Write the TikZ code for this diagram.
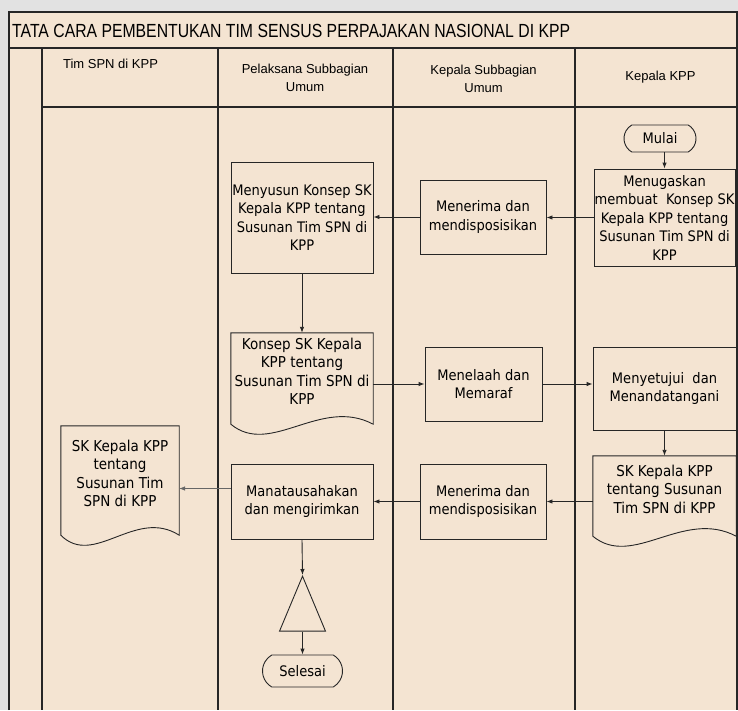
\documentclass[tikz,border=0pt]{standalone}
\usepackage{fontspec}
\setmainfont{Liberation Sans}
\newfontfamily\kotakfont{DejaVu Sans}[FakeStretch=0.9]
\newfontfamily\judulfont{Liberation Sans}[FakeStretch=0.83]
\usetikzlibrary{arrows.meta, shapes.misc, shapes.geometric, calc}

\definecolor{krem}{RGB}{244,228,210}
\definecolor{latar}{RGB}{226,226,226}
\colorlet{garis}{black!85}

% kertas dengan tepi bawah bergelombang
\newcommand{\dokumen}[1]{%
  \draw[garis, line width=0.9pt] ($(#1.south west)+(0,14)$) -- (#1.north west) -- (#1.north east)
    -- ($(#1.south east)+(0,14)$)
    .. controls ($(#1.south east)!0.37!(#1.south west)+(0,-14)$)
    and ($(#1.south west)!0.28!(#1.south east)+(0,47)$) .. ($(#1.south west)+(0,14)$) -- cycle;}

\begin{document}
\begin{tikzpicture}[x=1pt, y=-1pt,
  kotak/.style={draw=garis, line width=0.9pt, align=center, inner sep=0pt,
    font=\kotakfont\fontsize{14.5}{18.5}\selectfont},
  dok/.style={align=center, inner sep=0pt, font=\kotakfont\fontsize{15}{18.5}\selectfont},
  ujung/.style={draw=garis, line width=0.9pt, rounded rectangle, rounded rectangle arc length=120,
    inner sep=0pt, font=\kotakfont\fontsize{14.5}{18.5}\selectfont},
  kepala/.style={align=center, inner sep=0pt, font=\fontsize{13}{18}\selectfont},
  lajur/.style={draw=garis, line width=1.5pt},
  panah/.style={draw=garis, line width=0.9pt, -{Latex[length=6pt, width=4.5pt]}},
  tipis/.style={draw=black!60, line width=0.6pt}]

  \useasboundingbox (0, 0) rectangle (738, 710);
  \fill[latar] (0, 0) rectangle (738, 710);
  \fill[krem] (9, 12) rectangle (737, 710);

  % bingkai dan lajur
  \draw[lajur] (9, 710) -- (9, 12) -- (737, 12) -- (737, 710);
  \draw[lajur] (9, 48) -- (737, 48);
  \draw[lajur] (42, 107) -- (737, 107);
  \foreach \x in {42, 218, 393, 575}
    \draw[lajur] (\x, 48) -- (\x, 710);

  \draw (12, 30.5) node[anchor=west, inner sep=0pt, font=\judulfont\fontsize{19}{20}\selectfont] (judul)
    {TATA CARA PEMBENTUKAN TIM SENSUS PERPAJAKAN NASIONAL DI KPP};
  \draw (110.5, 64)   node[kepala] (tim) {Tim SPN di KPP};
  \draw (305, 78)     node[kepala] (pelaksana) {Pelaksana Subbagian\\Umum};
  \draw (483.5, 78.5) node[kepala] (kasubbag) {Kepala Subbagian\\Umum};
  \draw (660.5, 77)   node[kepala] (kakpp) {Kepala KPP};

  % langkah-langkah
  \draw (660, 138.5)   node[ujung, minimum width=72pt, minimum height=27pt] (mulai) {Mulai};
  \draw (664.5, 217.5) node[kotak, minimum width=141pt, minimum height=97pt] (tugas)
    {Menugaskan\\membuat\ \ Konsep SK\\Kepala KPP tentang\\Susunan Tim SPN di\\KPP};
  \draw (483, 217)     node[kotak, minimum width=126pt, minimum height=74pt] (terima1)
    {Menerima dan\\mendisposisikan};
  \draw (302, 217.5)   node[kotak, minimum width=142pt, minimum height=111pt] (susun)
    {Menyusun Konsep SK\\Kepala KPP tentang\\Susunan Tim SPN di\\KPP};
  \draw (302, 371.5)   node[dok, minimum width=142pt, minimum height=77pt] (konsep)
    {Konsep SK Kepala\\KPP tentang\\Susunan Tim SPN di\\KPP};
  \draw (483.5, 384)   node[kotak, minimum width=117pt, minimum height=74pt] (telaah)
    {Menelaah dan\\Memaraf};
  \draw (664.5, 388.5) node[kotak, minimum width=143pt, minimum height=83pt] (setuju)
    {Menyetujui\ \ dan\\Menandatangani};
  \draw (664.5, 489)   node[dok, minimum width=143pt, minimum height=66pt] (skkpp)
    {SK Kepala KPP\\tentang Susunan\\Tim SPN di KPP};
  \draw (483, 501.5)   node[kotak, minimum width=126pt, minimum height=75pt] (terima2)
    {Menerima dan\\mendisposisikan};
  \draw (302, 501.5)   node[kotak, minimum width=142pt, minimum height=75pt] (manat)
    {Manatausahakan\\dan mengirimkan};
  \draw (120, 473.5)   node[dok, minimum width=118pt, minimum height=95pt] (skspn)
    {SK Kepala KPP\\tentang\\Susunan Tim\\SPN di KPP};
  \draw (302.5, 575)   node[draw=garis, line width=0.9pt, isosceles triangle, shape border rotate=90,
    isosceles triangle stretches, minimum width=46pt, minimum height=55pt, inner sep=0pt,
    anchor=apex] (arsip) {};
  \draw (302.5, 671)   node[ujung, minimum width=80pt, minimum height=32pt] (selesai) {Selesai};

  \dokumen{konsep}
  \dokumen{skkpp}
  \dokumen{skspn}

  \draw[panah] (mulai.south -| tugas.north) -- (tugas.north);
  \draw[panah] (tugas.west) -- (tugas.west -| terima1.east);
  \draw[panah] (terima1.west) -- (terima1.west -| susun.east);
  \draw[panah] (susun.south) -- (konsep.north);
  \draw[panah] (konsep.east |- telaah.west) -- (telaah.west);
  \draw[panah] (telaah.east) -- (telaah.east -| setuju.west);
  \draw[panah] (setuju.south) -- (skkpp.north);
  \draw[panah] (skkpp.west |- terima2.east) -- (terima2.east);
  \draw[panah] (terima2.west) -- (manat.east);
  \draw[panah, tipis] ([yshift=13pt]manat.west) -- ([yshift=13pt]manat.west -| skspn.east);
  \draw[panah] (manat.south) -- (arsip.apex);
  \draw[panah] (arsip.south) -- (selesai.north);
\end{tikzpicture}
\end{document}
